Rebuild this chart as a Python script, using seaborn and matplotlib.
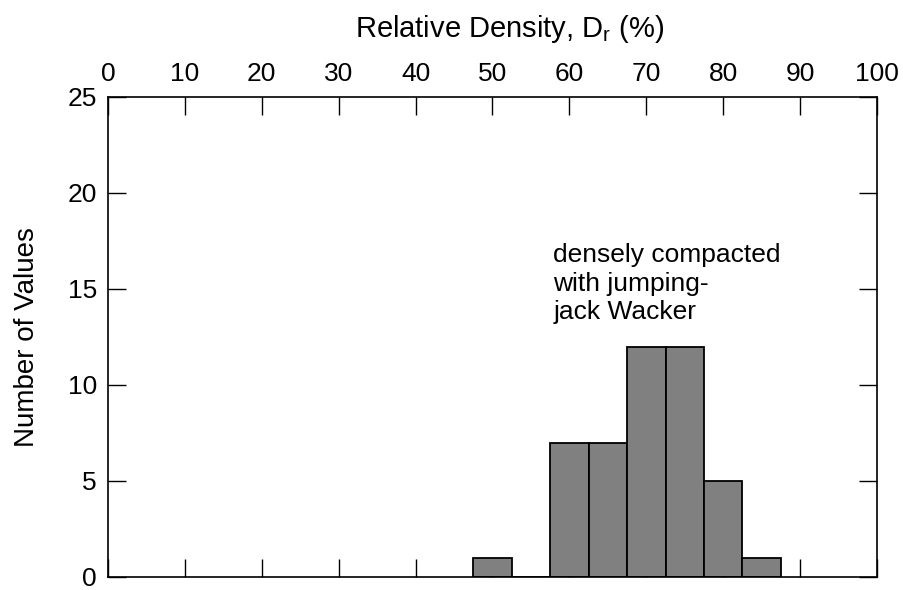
import numpy as np
import pandas as pd
import matplotlib
matplotlib.use("Agg")
import matplotlib.pyplot as plt
import seaborn as sns

bin_centers = [50, 60, 65, 70, 75, 80, 85]
counts = [1, 7, 7, 12, 12, 5, 1]
x_ticks = [0, 10, 20, 30, 40, 50, 60, 70, 80, 90, 100]
y_ticks = [0, 5, 10, 15, 20, 25]

df = pd.DataFrame({"dr": bin_centers, "n": counts})

sns.set_theme(style="white")
plt.rcParams['font.family'] = ['Liberation Sans', 'DejaVu Sans']
plt.rcParams['mathtext.fontset'] = 'custom'
plt.rcParams['mathtext.rm'] = 'Liberation Sans'
plt.rcParams['mathtext.it'] = 'Liberation Sans'

fig = plt.figure(figsize=(9.04, 5.90), dpi=100)
ax = fig.add_axes([108/904, 1-577/590, (877-108)/904, (577-97)/590])

sns.histplot(data=df, x="dr", weights="n", binwidth=5, binrange=(47.5, 87.5), ax=ax,
             color="#808080", alpha=1, edgecolor="black", linewidth=1.3)

ax.set_xlim(0, 100)
ax.set_ylim(0, 25)
ax.set_xticks(x_ticks)
ax.set_yticks(y_ticks)
ax.xaxis.set_ticks_position('both')
ax.yaxis.set_ticks_position('both')
ax.tick_params(axis='both', direction='in', length=13, width=1.0, color='black',
               labelsize=19, labelcolor='black', pad=8)
ax.tick_params(axis='x', labeltop=True, labelbottom=False)
ax.tick_params(axis='y', labelleft=True, labelright=False)
for s in ax.spines.values():
    s.set_color('black')
    s.set_linewidth(1.2)

ax.xaxis.set_label_position('top')
ax.set_xlabel(r"Relative Density, D$_\mathrm{r}$ (%)", fontsize=21, color='black', labelpad=18)
ax.xaxis.label.set_x(0.522)
ax.set_ylabel("Number of Values", fontsize=20, color='black', labelpad=20)

ax.text(57.9, 17.4, "densely compacted\nwith jumping-\njack Wacker", fontsize=19,
        color='black', ha='left', va='top', linespacing=1.25)

fig.savefig("out.png", dpi=100)
